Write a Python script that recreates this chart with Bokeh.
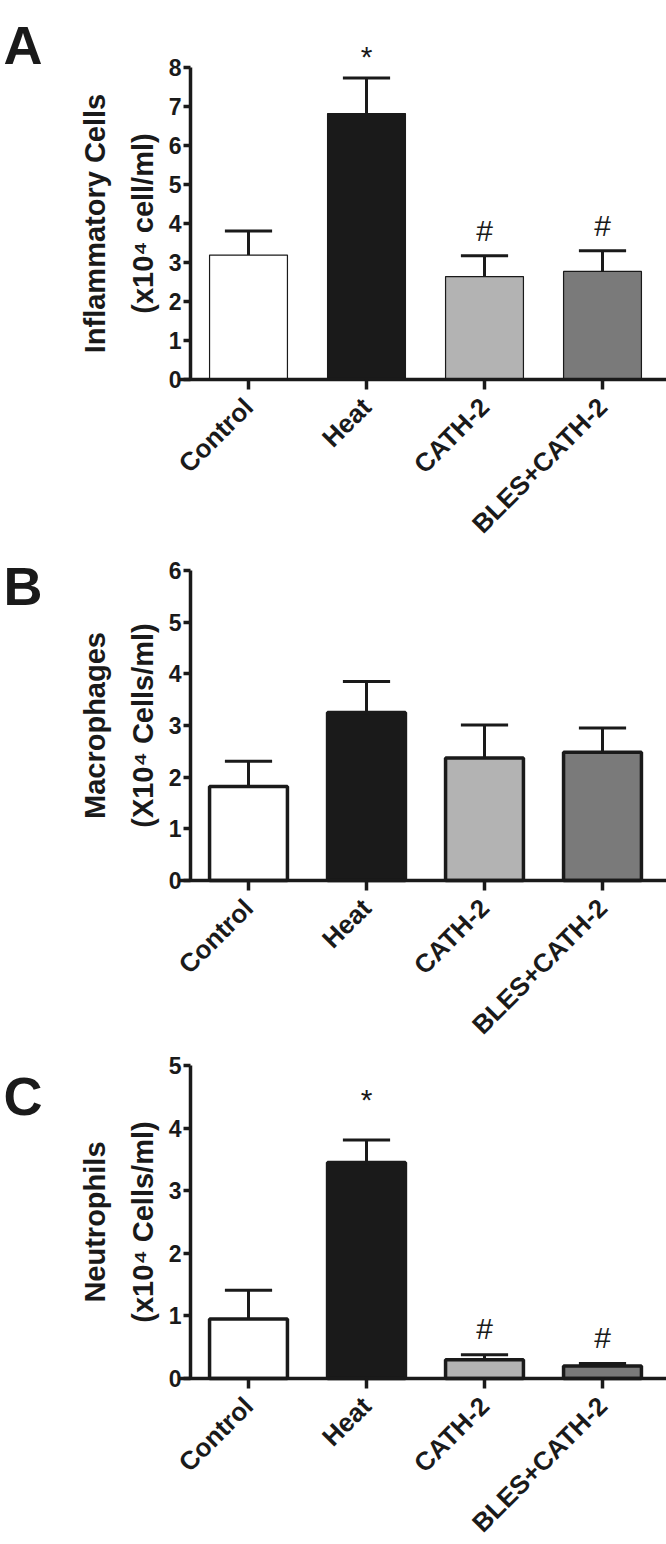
import math
from bokeh.plotting import figure
from bokeh.models import Range1d, FixedTicker, ColumnDataSource, LabelSet, Label
from bokeh.layouts import column
from bokeh.embed import file_html
from bokeh.resources import INLINE
from bokeh.core.properties import value

# ---------------- data ----------------
categories = ["Control", "Heat", "CATH-2", "BLES+CATH-2"]
bar_colors = ["#ffffff", "#1a1a1a", "#b3b3b3", "#7a7a7a"]

inflammatory_mean = [3.19, 6.82, 2.64, 2.77]
inflammatory_sem = [0.62, 0.91, 0.53, 0.53]
inflammatory_marks = ["", "*", "#", "#"]

macrophage_mean = [1.82, 3.25, 2.37, 2.48]
macrophage_sem = [0.49, 0.60, 0.64, 0.47]
macrophage_marks = ["", "", "", ""]

neutrophil_mean = [0.95, 3.45, 0.30, 0.20]
neutrophil_sem = [0.46, 0.36, 0.08, 0.04]
neutrophil_marks = ["", "*", "#", "#"]

INK = "#1a1a1a"
FONT = "Liberation Sans, Arial, Helvetica, sans-serif"

# ---------------- layout (pixels inside each figure) ----------------
FIG_W = 666
X_PX_PER_CAT = 118.0   # distance between bar centres
FIRST_BAR_PX = 248.0   # centre of first bar
YAXIS_PX = 190.0       # position of the y axis line
XAXIS_LEFT_PX = 178.0  # x axis line starts a little left of the y axis


def make_panel(letter, ylabel, means, sems, marks, y_max, style):
    n = len(categories)
    xs = list(range(n))
    H = style["height"]

    x0 = (0 - FIRST_BAR_PX) / X_PX_PER_CAT
    x1 = (FIG_W - FIRST_BAR_PX) / X_PX_PER_CAT
    ppu = (style["zero_px"] - style["top_px"]) / y_max
    y1 = y_max + style["top_px"] / ppu
    y0 = -(H - style["zero_px"]) / ppu

    p = figure(width=FIG_W, height=H, output_backend="svg",
               toolbar_location=None,
               x_range=Range1d(x0, x1), y_range=Range1d(y0, y1),
               min_border_left=0, min_border_right=0,
               min_border_top=0, min_border_bottom=0)
    p.outline_line_color = None
    p.xgrid.visible = False
    p.ygrid.visible = False

    half_cap = 0.2
    src = ColumnDataSource(dict(
        x=xs, top=means, color=bar_colors,
        err=[m + s for m, s in zip(means, sems)],
        cl=[x - half_cap for x in xs], cr=[x + half_cap for x in xs],
        mark=marks,
        off=[style["star_off"] if m == "*" else style["hash_off"] for m in marks],
    ))
    p.segment(x0="x", y0="top", x1="x", y1="err", line_width=3,
              line_color=INK, source=src)
    p.segment(x0="cl", y0="err", x1="cr", y1="err", line_width=3,
              line_color=INK, source=src)
    p.vbar(x="x", top="top", bottom=0, width=0.66, fill_color="color",
           line_color=INK, line_width=style["bar_line"], source=src)

    marks_set = LabelSet(x="x", y="err", text="mark", y_offset="off", source=src,
                         text_align="center", text_baseline="middle",
                         text_font=value(FONT), text_font_size=value("30px"),
                         text_color=INK)
    p.add_layout(marks_set)

    # axes
    for ax in (p.xaxis, p.yaxis):
        ax.axis_line_width = 3.5
        ax.axis_line_color = INK
        ax.major_tick_line_width = 3.5
        ax.major_tick_line_color = INK
        ax.minor_tick_line_color = None
        ax.major_tick_in = 0
        ax.major_label_text_color = INK
        ax.major_label_text_font = FONT
        ax.major_label_text_font_style = "bold"

    p.xaxis.fixed_location = 0
    p.xaxis.bounds = ((XAXIS_LEFT_PX - FIRST_BAR_PX) / X_PX_PER_CAT, x1)
    p.xaxis.ticker = FixedTicker(ticks=xs)
    p.xaxis.major_label_overrides = {i: c for i, c in enumerate(categories)}
    p.xaxis.major_label_orientation = math.pi / 4
    p.xaxis.major_tick_out = 10
    p.xaxis.major_label_text_font_size = "26px"
    p.xaxis.major_label_standoff = 13

    p.yaxis.fixed_location = (YAXIS_PX - FIRST_BAR_PX) / X_PX_PER_CAT
    p.yaxis.bounds = (0, y_max)
    p.yaxis.ticker = FixedTicker(ticks=list(range(0, y_max + 1)))
    p.yaxis.major_tick_out = 7
    p.yaxis.major_label_text_font_size = "23px"
    p.yaxis.major_label_standoff = 2
    p.yaxis.axis_label = ylabel
    p.yaxis.axis_label_text_font = FONT
    p.yaxis.axis_label_text_font_style = "bold"
    p.yaxis.axis_label_text_font_size = "29px"
    p.yaxis.axis_label_text_color = INK
    p.yaxis.axis_label_standoff = 7
    p.yaxis.axis_label_text_line_height = 1.5

    p.add_layout(Label(x=3, y=style["letter_base"], x_units="canvas", y_units="canvas",
                       text=letter, text_font=FONT, text_font_style="bold",
                       text_font_size="54px", text_color=INK,
                       text_baseline="alphabetic", text_align="left"))
    return p


pa = make_panel("A", "Inflammatory Cells\n(x10\u2074 cell/ml)",
                inflammatory_mean, inflammatory_sem, inflammatory_marks, 8,
                dict(height=543, top_px=67, zero_px=379, bar_line=1.2,
                     star_off=22, hash_off=25, letter_base=44))
pb = make_panel("B", "Macrophages\n(X10\u2074 Cells/ml)",
                macrophage_mean, macrophage_sem, macrophage_marks, 6,
                dict(height=501, top_px=27, zero_px=337, bar_line=3.5,
                     star_off=22, hash_off=25, letter_base=42))
pc = make_panel("C", "Neutrophils\n(x10\u2074 Cells/ml)",
                neutrophil_mean, neutrophil_sem, neutrophil_marks, 5,
                dict(height=500, top_px=21, zero_px=334, bar_line=3.5,
                     star_off=40, hash_off=26, letter_base=51))

layout = column(pa, pb, pc, spacing=0)
open("out.html", "w").write(file_html(layout, INLINE))
